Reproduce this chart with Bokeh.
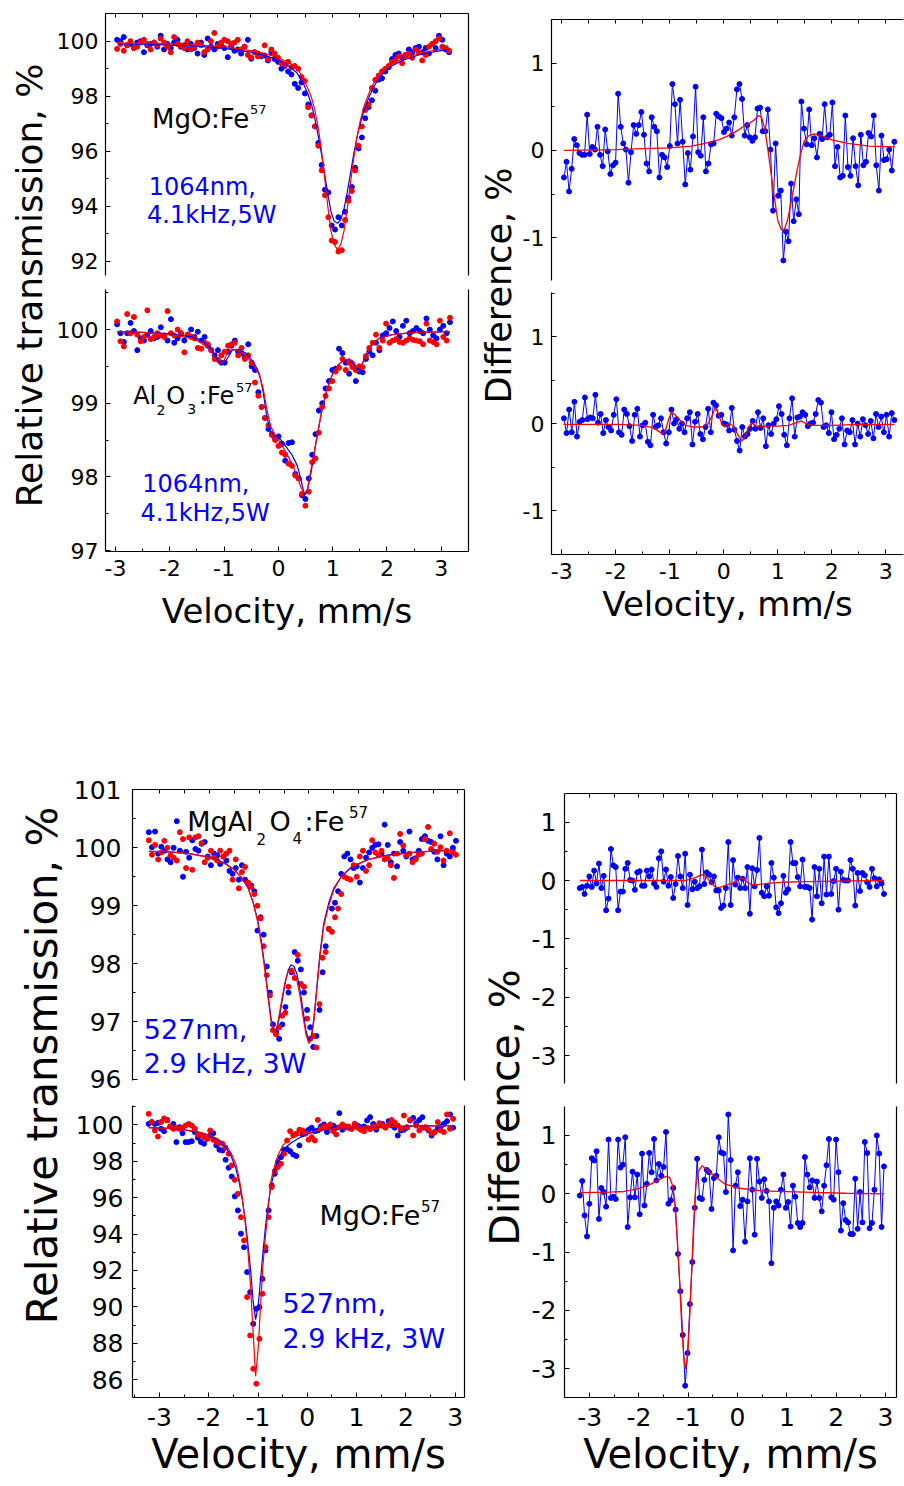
import numpy as np
from bokeh.plotting import figure
from bokeh.models import Range1d, LinearAxis, SingleIntervalTicker, FixedTicker, Label
from bokeh.layouts import row, column
from bokeh.embed import file_html
from bokeh.resources import INLINE

FONT = "DejaVu Sans"
BLUE = "#0000FF"
RED = "#FF0000"

# ------------------------------------------------------------------ data
# velocity channel ranges (mm/s)
v_top = (-2.97, 3.16)
v_bot = (-3.22, 2.96)
v_top_diff = (-2.96, 3.16)
v_bot_diff = (-3.2, 2.97)

# MgO:Fe57, 1064 nm (top-left upper)
mgo1064_blue = [100.05, 100.0, 100.15, 99.85, 99.9, 99.75, 99.95, 100.0, 99.6, 99.85, 99.9, 99.95, 99.8, 100.2, 99.7,
                99.9, 99.75, 99.95, 100.05, 99.8, 99.85, 99.7, 99.9, 99.75, 99.55, 99.95, 99.5, 100.1, 99.8, 99.7,
                99.9, 99.85, 99.75,
                99.42, 99.8, 99.65, 99.7, 99.55, 99.8, 100.05, 99.36, 99.6, 99.55, 99.45, 99.48, 99.3, 99.6, 99.35, 99.25,
                99.0, 99.1, 98.9, 98.79, 98.45, 98.3, 98.5, 98.1,
                97.7, 97.3, 96.9, 96.3, 95.5, 94.6, 94.5, 93.3, 93.15, 93.6, 93.3, 93.8, 94.3, 94.7, 95.4, 96.1, 96.5,
                97.2, 97.6,
                97.85, 98.2, 98.6, 98.65, 98.9, 99.05, 99.35, 99.5, 99.55, 99.4, 99.5, 99.7, 99.6, 99.75, 99.8, 99.6,
                99.75, 99.55, 99.9, 99.75, 100.2, 100.05, 99.7, 99.6]
mgo1064_red = [99.72, 99.9, 99.65, 99.85, 100.0, 99.75, 99.8, 99.95, 100.05, 99.9, 99.7, 99.95, 99.85, 100.1, 99.95,
               99.8, 99.6, 100.15, 99.9, 99.85, 99.75, 100.0, 99.7, 99.8, 99.95, 99.85, 99.6, 99.7, 100.0, 100.3,
               99.8, 99.95, 100.05,
               100.0, 99.9, 99.95, 100.05, 99.7, 99.8, 99.5, 99.4, 99.6, 99.45, 99.5, 99.85, 99.35, 99.7, 99.55, 99.4,
               99.2, 99.15, 99.25, 99.05, 99.1, 99.0, 98.7, 98.55,
               97.6, 97.3, 96.9, 96.2, 95.3, 94.4, 93.6, 92.75, 92.7, 92.35, 92.4, 93.5, 94.2, 94.55, 95.3, 96.2, 96.9,
               97.5, 97.7,
               98.3, 98.6, 98.75, 98.9, 99.0, 99.1, 99.25, 99.3, 99.45, 99.2, 99.5, 99.55, 99.4, 99.7, 99.6, 99.3,
               99.5, 99.8, 99.9, 100.0, 100.1, 99.8, 99.75, 99.65]
mgo1064_fit_v = [-2.96, -2.5, -2.0, -1.5, -1.0, -0.5, -0.2, 0.0, 0.2, 0.35, 0.45, 0.55, 0.62, 0.68, 0.74, 0.8, 0.86,
                 0.92, 0.98, 1.04, 1.1, 1.16, 1.22, 1.28, 1.34, 1.4, 1.46, 1.52, 1.6, 1.7, 1.8, 1.95, 2.1, 2.3, 2.6,
                 2.9, 3.16]
mgo1064_fit_blue = [99.9, 99.89, 99.86, 99.82, 99.74, 99.6, 99.45, 99.32, 99.1, 98.85, 98.55, 98.1, 97.7, 97.2, 96.6,
                    95.95, 95.2, 94.45, 93.8, 93.45, 93.38, 93.5, 93.9, 94.5, 95.2, 95.9, 96.5, 97.0, 97.55, 98.05,
                    98.45, 98.85, 99.1, 99.3, 99.5, 99.62, 99.7]
mgo1064_fit_red = [99.93, 99.92, 99.9, 99.86, 99.8, 99.66, 99.52, 99.4, 99.22, 99.05, 98.7, 98.3, 97.95, 97.5, 96.9,
                   96.1, 95.1, 94.0, 93.1, 92.6, 92.42, 92.6, 93.1, 93.9, 94.85, 95.75, 96.5, 97.1, 97.7, 98.2, 98.6,
                   98.95, 99.15, 99.35, 99.55, 99.68, 99.76]

# Al2O3:Fe57, 1064 nm (top-left lower)
al2o3_blue = [100.07, 99.95, 99.83, 99.95, 100.09, 99.98, 99.72, 99.88, 99.85, 99.93, 99.98, 99.88, 99.9, 100.03,
              99.92, 99.85, 100.14, 99.82, 99.88, 99.95, 99.85, 99.93, 100.0, 99.9, 99.97, 99.85, 99.9, 99.78, 99.72,
              99.65, 99.72, 99.55, 99.55, 99.7, 99.78, 99.85, 99.7, 99.68, 99.62, 99.8, 99.5, 99.45, 99.15, 98.95,
              98.8, 98.65, 98.58, 98.52, 98.55, 98.45, 98.22, 98.46, 98.47, 98.04, 97.98, 97.75, 97.7, 97.98, 98.3,
              98.58, 98.9, 99.0, 99.2, 99.3, 99.45, 99.47, 99.74, 99.68, 99.55, 99.4, 99.51, 99.3, 99.43, 99.42,
              99.6, 99.7, 99.65, 99.82, 99.72, 99.92, 99.95, 100.02, 100.11, 99.98, 99.9, 100.05, 100.12, 99.95,
              99.98, 100.02, 99.98, 99.95, 100.15, 100.0, 99.92, 99.88, 100.0, 100.05, 99.95, 100.1]
al2o3_red = [100.11, 99.84, 99.77, 100.21, 99.95, 100.17, 99.93, 99.84, 99.9, 100.26, 99.87, 99.9, 99.95, 99.92,
             99.9, 100.25, 99.95, 99.92, 100.0, 99.95, 99.69, 99.93, 99.9, 99.88, 99.75, 99.74, 99.82, 99.8, 99.72,
             99.6, 99.59, 99.65, 99.7, 99.78, 99.8, 99.82, 99.65, 99.75, 99.6, 99.65, 99.55, 99.28, 99.1, 98.95,
             98.8, 98.7, 98.57, 98.5, 98.42, 98.33, 98.3, 98.18, 98.15, 98.02, 97.98, 97.77, 97.61, 97.8, 98.2,
             98.25, 98.6, 98.95, 99.1, 99.2, 99.3, 99.43, 99.48, 99.6, 99.45, 99.55, 99.49, 99.45, 99.5, 99.49,
             99.64, 99.75, 99.82, 99.93, 99.75, 99.85, 100.08, 99.82, 99.85, 99.87, 99.83, 99.82, 99.85, 99.88,
             99.86, 99.85, 99.84, 99.8, 100.08, 99.85, 99.83, 99.8, 100.12, 99.9, 99.85, 100.16]
al2o3_fit_v = [-2.97, -2.5, -2.0, -1.6, -1.4, -1.25, -1.15, -1.08, -1.0, -0.93, -0.85, -0.75, -0.6, -0.45, -0.35,
               -0.28, -0.22, -0.15, -0.05, 0.05, 0.15, 0.25, 0.35, 0.42, 0.48, 0.53, 0.6, 0.7, 0.8, 0.9, 1.0, 1.1,
               1.2, 1.3, 1.38, 1.45, 1.52, 1.6, 1.7, 1.85, 2.1, 2.5, 3.16]
al2o3_fit_blue = [99.97, 99.96, 99.94, 99.9, 99.85, 99.75, 99.62, 99.55, 99.54, 99.62, 99.72, 99.73, 99.68, 99.55,
                  99.4, 99.15, 98.85, 98.62, 98.55, 98.5, 98.4, 98.3, 98.15, 97.95, 97.75, 97.8, 98.05, 98.5, 98.9,
                  99.2, 99.4, 99.52, 99.58, 99.6, 99.55, 99.45, 99.5, 99.62, 99.78, 99.88, 99.93, 99.96, 99.97]
al2o3_fit_red = [99.97, 99.96, 99.93, 99.88, 99.82, 99.72, 99.58, 99.53, 99.58, 99.7, 99.73, 99.72, 99.65, 99.52,
                 99.38, 99.2, 98.95, 98.7, 98.55, 98.45, 98.32, 98.18, 98.0, 97.85, 97.78, 97.82, 98.1, 98.5, 98.9,
                 99.2, 99.4, 99.52, 99.58, 99.6, 99.57, 99.48, 99.5, 99.62, 99.78, 99.88, 99.93, 99.96, 99.97]

# differences, 1064 nm (top right)
mgo1064_diff = [-0.31, -0.13, -0.47, -0.21, 0.13, 0.06, -0.03, -0.05, -0.05, 0.41, -0.04, 0.04, 0.01, 0.27, -0.05,
                -0.18, 0.24, -0.01, -0.27, -0.17, -0.14, 0.65, 0.27, 0.08, 0.01, -0.37, -0.02, 0.29, 0.19, 0.29,
                0.44, 0.18, -0.15, -0.24, 0.38, 0.27, 0.22, -0.31, -0.05, -0.08, -0.19, 0.05, 0.76, 0.53, 0.08, 0.58,
                0.1, -0.39, -0.03, -0.22, 0.16, 0.73, -0.02, -0.06, 0.38, -0.24, -0.15, 0.07, 0.08, 0.42, 0.39, 0.37,
                0.21, 0.25, 0.32, 0.17, 0.38, 0.7, 0.76, 0.59, 0.17, 0.29, 0.15, 0.11, 0.15, 0.48, 0.49, 0.22, 0.22,
                0.47, 0.01, -0.69, 0.08, -0.52, -0.46, -1.26, -0.93, -1.04, -0.38, -0.81, -0.56, -0.73, 0.56, 0.25,
                0.07, 0.47, 0.06, 0.14, -0.08, 0.19, 0.13, 0.53, 0.15, 0.18, 0.55, -0.18, 0.04, -0.31, -0.29, 0.4,
                -0.19, -0.29, 0.14, -0.18, -0.4, 0.18, -0.17, -0.13, 0.2, 0.16, 0.4, -0.17, -0.46, 0.17, -0.11, -0.1,
                0.01, -0.23, 0.1]
mgo1064_diff_fit_v = [-2.96, -2.0, -1.5, -1.0, -0.6, -0.35, -0.1, 0.02, 0.15, 0.26, 0.38, 0.45, 0.57, 0.64, 0.7,
                      0.76, 0.82, 0.88, 0.94, 1.0, 1.06, 1.12, 1.18, 1.24, 1.3, 1.36, 1.42, 1.49, 1.58, 1.67, 1.8,
                      2.0, 2.3, 2.7, 3.16]
mgo1064_diff_fit = [0.0, 0.01, 0.02, 0.03, 0.05, 0.08, 0.12, 0.15, 0.19, 0.23, 0.28, 0.3, 0.35, 0.4, 0.38, 0.25, 0.0,
                    -0.28, -0.55, -0.8, -0.9, -0.91, -0.8, -0.62, -0.42, -0.22, -0.05, 0.11, 0.17, 0.19, 0.17, 0.12,
                    0.08, 0.05, 0.04]
al2o3_diff = [0.06, -0.11, 0.16, -0.1, 0.25, -0.15, 0.02, 0.04, 0.3, 0.05, 0.07, 0.06, 0.33, 0.01, 0.11, -0.11, 0.04,
              -0.04, -0.08, 0.1, 0.28, -0.1, -0.13, 0.16, 0.11, -0.03, -0.2, 0.1, 0.17, -0.15, -0.02, 0.01, -0.21,
              -0.25, 0.1, -0.04, -0.02, 0.06, -0.1, -0.23, -0.1, 0.16, 0.0, 0.05, -0.06, 0.0, -0.1, 0.06, 0.13,
              -0.24, 0.02, 0.11, -0.12, -0.18, -0.04, 0.17, -0.1, 0.24, 0.21, 0.09, 0.1, 0.0, -0.01, -0.08, 0.18,
              -0.07, -0.2, -0.31, -0.04, -0.15, -0.12, -0.06, 0.03, -0.06, 0.13, -0.05, 0.06, -0.26, -0.02, -0.12,
              0.0, 0.05, 0.2, 0.11, -0.13, -0.25, 0.06, 0.29, -0.15, 0.07, 0.08, 0.13, 0.1, -0.03, 0.0, 0.01, 0.11,
              0.27, 0.24, -0.04, -0.02, -0.11, 0.13, -0.18, -0.13, -0.06, 0.06, -0.24, -0.08, -0.1, 0.04, -0.24,
              0.0, -0.15, 0.05, -0.02, -0.12, 0.03, -0.17, 0.11, -0.04, 0.08, -0.1, 0.1, -0.15, 0.12, 0.04]
al2o3_diff_fit_v = [-2.97, -2.0, -1.5, -1.3, -1.2, -1.14, -1.08, -1.02, -0.97, -0.9, -0.8, -0.7, -0.55, -0.4, -0.3,
                    -0.22, -0.16, -0.1, -0.04, 0.02, 0.1, 0.16, 0.22, 0.28, 0.34, 0.4, 0.46, 0.52, 0.6, 0.75, 1.0,
                    1.2, 1.35, 1.43, 1.52, 1.65, 2.0, 2.5, 3.16]
al2o3_diff_fit = [-0.01, -0.01, -0.02, -0.05, -0.09, -0.12, -0.08, 0.05, 0.13, 0.1, 0.03, -0.02, -0.04, -0.04,
                  -0.01, 0.08, 0.18, 0.12, 0.0, -0.04, 0.0, -0.02, -0.08, -0.15, -0.2, -0.14, -0.04, 0.01, -0.03,
                  -0.03, -0.03, -0.02, 0.01, 0.03, 0.0, -0.02, -0.02, -0.01, -0.01]

# MgAl2O4:Fe57, 527 nm (bottom-left upper)
mgal2o4_blue = [100.27, 100.01, 100.28, 99.9, 100.02, 99.95, 99.8, 99.75, 100.0, 100.46, 99.95, 99.5, 99.93, 99.83,
                100.13, 99.98, 99.95, 100.07, 100.1, 99.85, 99.7, 99.9, 99.87, 99.72, 99.85, 99.78, 99.6, 99.55,
                99.65, 99.45, 99.7, 99.45, 99.38, 99.35, 99.25, 98.57, 98.8, 98.5, 97.95, 97.5, 96.95, 96.82, 96.7,
                96.95, 97.25, 97.5, 97.85, 98.2, 98.05, 97.9, 97.5, 97.2, 96.9, 96.56, 96.75, 97.2, 97.85, 98.3,
                98.6, 98.95, 99.05, 99.25, 99.55, 99.85, 99.9, 99.8, 99.65, 99.68, 99.4, 99.65, 99.83, 99.92, 100.0,
                100.05, 100.06, 99.9, 100.4, 100.05, 99.75, 99.9, 99.68, 100.1, 99.95, 99.85, 100.28, 99.8, 99.82,
                99.95, 100.15, 100.2, 100.12, 100.1, 99.93, 99.8, 100.2, 99.7, 99.9, 99.85, 100.0, 100.12]
mgal2o4_red = [100.13, 99.88, 100.05, 99.8, 99.92, 100.12, 100.0, 99.87, 99.83, 99.78, 100.27, 100.15, 99.65, 100.18,
               99.62, 100.18, 100.2, 100.08, 99.75, 99.83, 99.95, 99.83, 99.78, 99.95, 99.85, 99.9, 99.95, 99.45,
               99.8, 99.3, 99.58, 99.67, 99.4, 99.32, 99.2, 99.0, 98.78, 98.3, 97.8, 97.45, 96.85, 96.78, 96.9,
               97.1, 97.15, 97.6, 97.88, 97.75, 98.15, 97.65, 97.6, 97.05, 96.7, 96.75, 96.55, 97.3, 98.1, 98.2,
               98.6, 98.55, 98.8, 98.95, 99.2, 99.5, 99.47, 99.45, 99.7, 99.5, 99.85, 99.95, 99.6, 99.7, 100.13,
               99.92, 99.87, 99.95, 99.8, 99.82, 99.7, 99.48, 99.9, 100.24, 100.04, 99.87, 99.9, 99.75, 99.8, 99.88,
               99.9, 100.15, 100.36, 99.98, 100.07, 99.93, 100.01, 99.78, 99.95, 100.25, 99.92, 99.88]
mgal2o4_fit_v = [-3.22, -2.8, -2.4, -2.0, -1.7, -1.5, -1.35, -1.22, -1.12, -1.03, -0.95, -0.88, -0.82, -0.76, -0.7,
                 -0.65, -0.6, -0.54, -0.48, -0.42, -0.36, -0.3, -0.24, -0.18, -0.12, -0.06, 0.0, 0.05, 0.1, 0.16,
                 0.22, 0.3, 0.4, 0.5, 0.65, 0.85, 1.2, 1.6, 2.2, 2.95]
mgal2o4_fit_blue = [99.94, 99.93, 99.9, 99.84, 99.74, 99.62, 99.48, 99.3, 99.05, 98.75, 98.35, 97.9, 97.45, 97.05,
                    96.82, 96.85, 97.05, 97.35, 97.65, 97.88, 97.98, 97.95, 97.82, 97.55, 97.2, 96.85, 96.67, 96.75,
                    97.05, 97.6, 98.15, 98.7, 99.05, 99.3, 99.5, 99.66, 99.8, 99.88, 99.93, 99.96]
mgal2o4_fit_red = [99.94, 99.93, 99.9, 99.83, 99.73, 99.62, 99.48, 99.3, 99.05, 98.72, 98.3, 97.85, 97.4, 97.0,
                   96.8, 96.87, 97.1, 97.4, 97.68, 97.86, 97.9, 97.85, 97.7, 97.45, 97.1, 96.78, 96.62, 96.7, 97.0,
                   97.55, 98.1, 98.65, 99.0, 99.27, 99.5, 99.67, 99.8, 99.87, 99.93, 99.96]

# MgO:Fe57, 527 nm (bottom-left lower)
mgo527_blue = [100.05, 100.15, 100.05, 100.1, 99.78, 99.65, 100.27, 99.9, 100.05, 99.05, 99.87, 99.54, 99.05, 99.05,
               99.1, 99.6, 99.29, 99.05, 98.96, 99.23, 99.41, 99.54, 98.87, 98.63, 98.59, 98.08, 97.64, 97.16, 96.07,
               95.3, 94.02, 93.28, 91.91, 90.81, 89.07, 89.9, 89.99, 91.54, 93.1, 95.3, 96.67, 97.31, 97.95, 98.22,
               98.63, 98.66, 98.55, 98.37, 98.28, 98.87, 99.47, 99.62, 99.73, 99.84, 99.65, 99.69, 99.91, 100.02,
               99.6, 99.91, 99.96, 99.84, 100.64, 99.73, 99.91, 99.84, 99.78, 100.05, 99.95, 99.87, 99.91, 100.24,
               100.42, 100.05, 99.73, 99.96, 100.05, 99.87, 100.2, 99.96, 99.84, 99.41, 99.69, 99.73, 99.84, 100.24,
               100.38, 100.09, 100.27, 100.42, 99.84, 99.69, 99.41, 99.6, 99.78, 99.91, 100.05, 100.2, 100.57, 99.84]
mgo527_red = [100.6, 100.15, 99.69, 99.36, 100.15, 100.35, 100.24, 99.91, 99.78, 99.84, 99.78, 99.84, 99.96, 100.05,
              99.96, 99.78, 99.47, 99.45, 99.32, 99.23, 99.69, 99.18, 99.05, 98.99, 98.96, 98.74, 98.41, 97.77,
              96.98, 96.21, 94.93, 93.65, 90.54, 88.43, 86.6, 85.78, 88.25, 90.72, 93.28, 94.93, 96.58, 97.46, 97.68,
              97.86, 98.41, 99.14, 99.65, 99.41, 99.51, 99.73, 99.69, 99.51, 99.18, 99.32, 99.14, 100.27, 99.78,
              99.91, 99.87, 100.02, 99.65, 99.47, 99.87, 100.02, 99.84, 99.91, 99.78, 100.05, 99.84, 99.73, 99.65,
              99.84, 99.76, 99.91, 99.87, 100.09, 99.95, 99.84, 100.02, 100.27, 100.13, 99.96, 99.78, 100.51, 99.87,
              100.27, 99.41, 99.96, 99.69, 99.84, 99.87, 99.73, 99.51, 99.6, 100.15, 99.69, 99.6, 100.57, 99.78,
              100.33]
mgo527_fit_v = [-3.22, -2.8, -2.5, -2.2, -2.0, -1.8, -1.65, -1.55, -1.45, -1.38, -1.32, -1.26, -1.2, -1.15, -1.1,
                -1.05, -1.0, -0.95, -0.9, -0.85, -0.8, -0.74, -0.68, -0.6, -0.5, -0.4, -0.3, -0.15, 0.0, 0.3, 0.7,
                1.2, 2.0, 2.95]
mgo527_fit_blue = [99.85, 99.8, 99.72, 99.58, 99.42, 99.15, 98.75, 98.3, 97.6, 96.8, 95.9, 94.8, 93.3, 92.0, 90.3,
                   89.3, 90.0, 91.5, 93.0, 94.4, 95.5, 96.6, 97.3, 98.1, 98.55, 98.85, 99.05, 99.3, 99.5, 99.7,
                   99.82, 99.88, 99.93, 99.96]
mgo527_fit_red = [99.85, 99.8, 99.73, 99.6, 99.45, 99.2, 98.85, 98.45, 97.85, 97.0, 96.0, 94.6, 92.9, 91.0, 88.6,
                  86.2, 87.6, 90.0, 92.3, 93.9, 95.2, 96.9, 97.6, 98.3, 98.85, 99.15, 99.3, 99.45, 99.55, 99.72,
                  99.83, 99.88, 99.93, 99.96]

# differences, 527 nm (bottom right)
mgal2o4_diff = [-0.13, -0.11, -0.23, -0.09, 0.07, -0.11, 0.17, -0.05, 0.29, -0.13, 0.08, -0.51, -0.31, 0.54, 0.26,
                0.23, -0.51, -0.19, -0.19, 0.2, 0.3, 0.01, 0.0, -0.16, 0.14, 0.16, -0.09, -0.09, 0.17, 0.07, 0.19,
                -0.05, -0.11, 0.38, 0.5, -0.02, 0.19, -0.09, 0.06, -0.3, -0.06, 0.42, 0.07, -0.13, 0.46, -0.42, 0.1,
                -0.15, -0.02, -0.13, -0.1, 0.53, -0.06, 0.14, 0.1, -0.03, 0.07, -0.17, -0.17, -0.47, -0.43, -0.13,
                0.66, -0.42, 0.35, -0.07, 0.05, -0.13, 0.03, -0.13, 0.23, -0.57, 0.21, -0.1, 0.18, 0.73, -0.21,
                -0.27, -0.1, -0.26, 0.3, 0.05, -0.46, -0.56, -0.39, 0.08, -0.21, -0.15, 0.66, 0.3, 0.3, 0.06, -0.1,
                0.36, -0.11, -0.11, -0.13, -0.67, 0.23, -0.27, 0.2, -0.39, 0.41, -0.24, 0.41, -0.23, -0.01, 0.2,
                -0.5, 0.15, 0.01, 0.0, 0.0, 0.35, 0.2, -0.43, 0.13, -0.18, 0.13, 0.09, -0.03, -0.11, 0.2, 0.04,
                -0.1, 0.02, -0.05, -0.23]
mgal2o4_diff_fit_v = [-3.2, -2.0, -1.3, -1.06, -0.95, -0.86, -0.78, -0.72, -0.66, -0.6, -0.53, -0.45, -0.38, -0.3,
                      -0.2, -0.1, -0.02, 0.04, 0.08, 0.13, 0.2, 0.28, 0.4, 0.6, 0.9, 1.4, 2.0, 2.97]
mgal2o4_diff_fit = [0.0, 0.0, 0.0, 0.0, 0.03, 0.05, 0.08, 0.1, 0.08, 0.03, -0.05, -0.11, -0.12, -0.1, -0.07, -0.04,
                    -0.01, 0.03, 0.04, 0.02, -0.03, -0.07, -0.07, -0.05, -0.03, -0.02, -0.01, 0.0]
mgo527_diff = [-0.03, 0.22, -0.37, -0.73, -0.17, 0.61, 0.57, 0.73, -0.43, 0.1, 0.03, -0.22, 0.93, -0.07, -0.05,
               -0.09, 0.93, 0.45, 0.5, 0.97, -0.57, -0.06, 0.38, -0.06, 0.33, -0.35, 0.69, -0.2, 0.17, 0.7, 0.37,
               0.94, 0.23, 0.51, 0.31, 0.46, 1.06, -0.17, -0.11, 0.1, -0.27, -1.03, -1.67, -2.42, -3.29, -2.73,
               -1.89, -1.17, -0.24, 0.6, -0.07, -0.09, 0.24, 0.41, 0.37, -0.26, 0.27, 0.31, 0.97, 0.71, 0.69, 0.03,
               1.36, 0.58, -0.97, 0.14, 0.37, -0.21, -0.1, -0.82, -0.13, 0.61, 0.07, -0.7, 0.6, 0.21, -0.07, 0.25,
               0.05, -0.13, -1.19, -0.24, -0.13, -0.2, 0.07, 0.33, -0.24, -0.14, -0.56, 0.14, -0.05, -0.5, -0.57,
               -0.5, 0.63, 0.33, 0.11, 0.23, -0.07, 0.21, -0.07, -0.3, 0.14, 0.49, 0.94, -0.06, -0.1, 0.93, 0.37,
               -0.63, -0.16, -0.45, -0.49, -0.69, -0.69, 0.26, -0.6, 0.03, -0.49, 0.89, 0.7, -0.59, -0.5, 0.07, 1.0,
               0.69, -0.57, 0.47]
mgo527_diff_fit_v = [-3.2, -2.6, -2.3, -2.0, -1.75, -1.55, -1.45, -1.38, -1.32, -1.27, -1.22, -1.17, -1.13, -1.09,
                     -1.05, -1.01, -0.97, -0.93, -0.89, -0.85, -0.8, -0.72, -0.6, -0.46, -0.26, 0.0, 0.5, 1.35, 2.2,
                     2.97]
mgo527_diff_fit = [0.02, 0.03, 0.04, 0.09, 0.17, 0.26, 0.3, 0.28, 0.15, -0.2, -0.8, -1.6, -2.3, -2.8, -3.0, -2.75,
                   -2.1, -1.3, -0.5, 0.1, 0.38, 0.48, 0.4, 0.3, 0.17, 0.1, 0.05, 0.03, 0.01, 0.0]

# tick labels written with a plain hyphen, as in the original
MINUS_LABELS = {-3: "-3", -2: "-2", -1: "-1"}

# ------------------------------------------------------------------ layout specs
# size: (width, height, border_left, border_right, border_top, border_bottom)
# frame: page position (left, top, width, height) of the plotting frame
SPECS = {
    "p1": dict(size=(419, 283, 53, 2, 13, 8), frame=(105, 13, 364, 262), xr=(-3.184, 3.519), yr=(91.48, 101.007), yint=2, rspine=True),
    "p2": dict(size=(419, 367, 53, 3, 6, 99), frame=(105, 289, 363, 262), xr=(-3.184, 3.501), yr=(96.988, 100.543), yint=1, rspine=True),
    "p3": dict(size=(385, 283, 30, 1, 19, 3), frame=(549, 19, 354, 261), xr=(-3.19, 3.329), yr=(-1.49, 1.5), yint=1, rspine=False),
    "p4": dict(size=(385, 367, 30, 1, 9, 96), frame=(549, 292, 354, 262), xr=(-3.19, 3.329), yr=(-1.505, 1.506), yint=1, rspine=False),
    "p5": dict(size=(408, 445, 62, 14, 139, 15), frame=(132, 789, 332, 291), xr=(-3.549, 3.131), yr=(95.981, 101.007), yint=1, rspine=True),
    "p6": dict(size=(408, 391, 62, 11, 10, 89), frame=(132, 1105, 335, 292), xr=(-3.549, 3.191), yr=(85.025, 101.06), yint=2, rspine=True),
    "p7": dict(size=(376, 445, 34, 8, 143, 12), frame=(562, 793, 334, 290), xr=(-3.51, 3.224), yr=(-3.48, 1.492), yint=1, rspine=True),
    "p8": dict(size=(376, 391, 34, 8, 11, 89), frame=(562, 1106, 334, 291), xr=(-3.51, 3.224), yr=(-3.492, 1.497), yint=1, rspine=True),
}


def style_axis(ax, size="22px", standoff=8):
    ax.axis_line_color = "black"
    ax.axis_line_width = 1.2
    ax.major_tick_out = 0
    ax.minor_tick_out = 0
    ax.major_tick_in = 5
    ax.minor_tick_in = 3
    ax.major_tick_line_color = "black"
    ax.minor_tick_line_color = "black"
    ax.major_label_text_font = FONT
    ax.major_label_text_font_size = size
    ax.major_label_text_color = "black"
    ax.major_label_standoff = standoff
    ax.major_label_overrides = MINUS_LABELS


def make_panel(key, upper, tick_size, xlabel_size=None, ylab_standoff=8, xlab_standoff=8, title_standoff=6):
    s = SPECS[key]
    W, H, L, R, T, B = s["size"]
    p = figure(width=W, height=H, x_range=Range1d(*s["xr"]), y_range=Range1d(*s["yr"]),
               x_axis_type=None, y_axis_type=None, output_backend="svg", toolbar_location=None,
               min_border_left=L, min_border_right=R, min_border_top=T, min_border_bottom=B,
               outline_line_color=None, background_fill_color="white", border_fill_color="white")
    left = LinearAxis(ticker=SingleIntervalTicker(interval=s["yint"], num_minor_ticks=2))
    style_axis(left, size=tick_size, standoff=ylab_standoff)
    p.add_layout(left, "left")
    if s["rspine"]:
        # plain right spine: no ticks, no labels
        right = LinearAxis(ticker=FixedTicker(ticks=[]))
        right.axis_line_color = "black"
        right.axis_line_width = 1.2
        right.major_tick_out = 0
        right.minor_tick_out = 0
        right.major_tick_in = 0
        right.minor_tick_in = 0
        p.add_layout(right, "right")
    if upper:
        # top spine with inward ticks every 0.5 mm/s but no labels
        half_steps = [float(v) for v in np.arange(-3.0, 3.01, 0.5)]
        top = LinearAxis(ticker=FixedTicker(ticks=[], minor_ticks=half_steps))
        top.axis_line_color = "black"
        top.axis_line_width = 1.2
        top.major_tick_out = 0
        top.minor_tick_out = 0
        top.major_tick_in = 0
        top.minor_tick_in = 4
        top.minor_tick_line_color = "black"
        p.add_layout(top, "above")
    else:
        bot = LinearAxis(ticker=SingleIntervalTicker(interval=1, num_minor_ticks=2))
        style_axis(bot, size=tick_size, standoff=xlab_standoff)
        bot.axis_label = "Velocity, mm/s"
        bot.axis_label_text_font = FONT
        bot.axis_label_text_font_size = xlabel_size
        bot.axis_label_text_font_style = "normal"
        bot.axis_label_text_color = "black"
        bot.axis_label_standoff = title_standoff
        p.add_layout(bot, "below")
    return p


def add_text(p, key, px, py, text, size, color="black"):
    """Place a text whose glyph centre line is at page pixel row py, left edge at page column px."""
    s = SPECS[key]
    fl, ft, fw, fh = s["frame"]
    x0, x1 = s["xr"]
    y0, y1 = s["yr"]
    x = x0 + (px - fl) / fw * (x1 - x0)
    y = y1 - (py - ft) / fh * (y1 - y0)
    p.add_layout(Label(x=x, y=y, text=text, text_font=FONT, text_font_size=size, text_color=color,
                       text_align="left", text_baseline="middle"))


def spectrum(p, rng, blue, red, fit_v, fit_blue, fit_red):
    vb = np.linspace(rng[0], rng[1], len(blue))
    vr = np.linspace(rng[0], rng[1], len(red))
    p.scatter(vb, blue, size=5, color=BLUE, marker="circle")
    p.scatter(vr, red, size=5, color=RED, marker="circle")
    p.line(fit_v, fit_blue, color=BLUE, line_width=1.2)
    p.line(fit_v, fit_red, color=RED, line_width=1.2)


def difference(p, rng, diff, fit_v, fit):
    v = np.linspace(rng[0], rng[1], len(diff))
    p.line(v, diff, color=BLUE, line_width=1)
    p.scatter(v, diff, size=5, color=BLUE, marker="circle")
    p.line(fit_v, fit, color=RED, line_width=1.3)


def title_fig(W, H, text, cx, cy_top, size):
    p = figure(width=W, height=H, x_range=Range1d(0, W), y_range=Range1d(0, H),
               x_axis_type=None, y_axis_type=None, output_backend="svg", toolbar_location=None,
               min_border_left=0, min_border_right=0, min_border_top=0, min_border_bottom=0,
               outline_line_color=None, background_fill_color="white", border_fill_color="white")
    p.add_layout(Label(x=cx, y=H - cy_top, text=text, angle=np.pi / 2, angle_units="rad",
                       text_align="center", text_baseline="middle", text_font=FONT,
                       text_font_size=size, text_color="black"))
    return p


# ------------------------------------------------------------------ top-left
p1 = make_panel("p1", True, "22px", ylab_standoff=7)
spectrum(p1, v_top, mgo1064_blue, mgo1064_red, mgo1064_fit_v, mgo1064_fit_blue, mgo1064_fit_red)
add_text(p1, "p1", 151.7, 118.3, "MgO:Fe", "26px")
add_text(p1, "p1", 250.0, 109, "57", "13px")
add_text(p1, "p1", 148.3, 186, "1064nm,", "24px", BLUE)
add_text(p1, "p1", 146.7, 214.5, "4.1kHz,5W", "24px", BLUE)

p2 = make_panel("p2", False, "22px", xlabel_size="34px", ylab_standoff=7, xlab_standoff=8, title_standoff=12)
spectrum(p2, v_top, al2o3_blue, al2o3_red, al2o3_fit_v, al2o3_fit_blue, al2o3_fit_red)
add_text(p2, "p2", 132.7, 395, "Al", "24px")
add_text(p2, "p2", 156.0, 409, "2", "14px")
add_text(p2, "p2", 165.7, 395, "O", "24px")
add_text(p2, "p2", 186.7, 408, "3", "14px")
add_text(p2, "p2", 198.3, 395, ":Fe", "24px")
add_text(p2, "p2", 235.5, 386.7, "57", "13px")
add_text(p2, "p2", 141.7, 483, "1064nm,", "24px", BLUE)
add_text(p2, "p2", 140.0, 512, "4.1kHz,5W", "24px", BLUE)

# ------------------------------------------------------------------ top-right
p3 = make_panel("p3", True, "22px", ylab_standoff=7)
difference(p3, v_top_diff, mgo1064_diff, mgo1064_diff_fit_v, mgo1064_diff_fit)
p4 = make_panel("p4", False, "22px", xlabel_size="34px", ylab_standoff=7, xlab_standoff=8, title_standoff=2)
difference(p4, v_top_diff, al2o3_diff, al2o3_diff_fit_v, al2o3_diff_fit)

# ------------------------------------------------------------------ bottom-left
p5 = make_panel("p5", True, "25px", ylab_standoff=11)
spectrum(p5, v_bot, mgal2o4_blue, mgal2o4_red, mgal2o4_fit_v, mgal2o4_fit_blue, mgal2o4_fit_red)
add_text(p5, "p5", 186.7, 821, "MgAl", "27px")
add_text(p5, "p5", 256.0, 838, "2", "15px")
add_text(p5, "p5", 269.0, 821, "O", "27px")
add_text(p5, "p5", 292.0, 837.7, "4", "15px")
add_text(p5, "p5", 304.0, 821, ":Fe", "27px")
add_text(p5, "p5", 348.5, 811, "57", "15px")
add_text(p5, "p5", 143.3, 1029, "527nm,", "27px", BLUE)
add_text(p5, "p5", 143.3, 1063, "2.9 kHz, 3W", "27px", BLUE)

p6 = make_panel("p6", False, "25px", xlabel_size="40px", ylab_standoff=9, xlab_standoff=10, title_standoff=2)
spectrum(p6, v_bot, mgo527_blue, mgo527_red, mgo527_fit_v, mgo527_fit_blue, mgo527_fit_red)
add_text(p6, "p6", 320.7, 1214.5, "MgO:Fe", "27px")
add_text(p6, "p6", 423.0, 1205, "57", "15px")
add_text(p6, "p6", 283.3, 1302.5, "527nm,", "27px", BLUE)
add_text(p6, "p6", 283.3, 1338, "2.9 kHz, 3W", "27px", BLUE)

# ------------------------------------------------------------------ bottom-right
p7 = make_panel("p7", True, "25px", ylab_standoff=8)
difference(p7, v_bot_diff, mgal2o4_diff, mgal2o4_diff_fit_v, mgal2o4_diff_fit)
p8 = make_panel("p8", False, "25px", xlabel_size="40px", ylab_standoff=8, xlab_standoff=10, title_standoff=2)
difference(p8, v_bot_diff, mgo527_diff, mgo527_diff_fit_v, mgo527_diff_fit)

# ------------------------------------------------------------------ vertical titles
ttl = title_fig(52, 650, "Relative transmission, %", 29, 285, "36px")
ttr = title_fig(48, 650, "Difference, %", 27, 285, "35px")
btl = title_fig(70, 836, "Relative transmission, %", 42, 415, "42px")
btr = title_fig(50, 836, "Difference, %", 26, 457, "41px")

top_row = row(ttl, column(p1, p2), ttr, column(p3, p4))
bot_row = row(btl, column(p5, p6), btr, column(p7, p8))
layout = column(top_row, bot_row)

open("out.html", "w").write(file_html(layout, INLINE))
